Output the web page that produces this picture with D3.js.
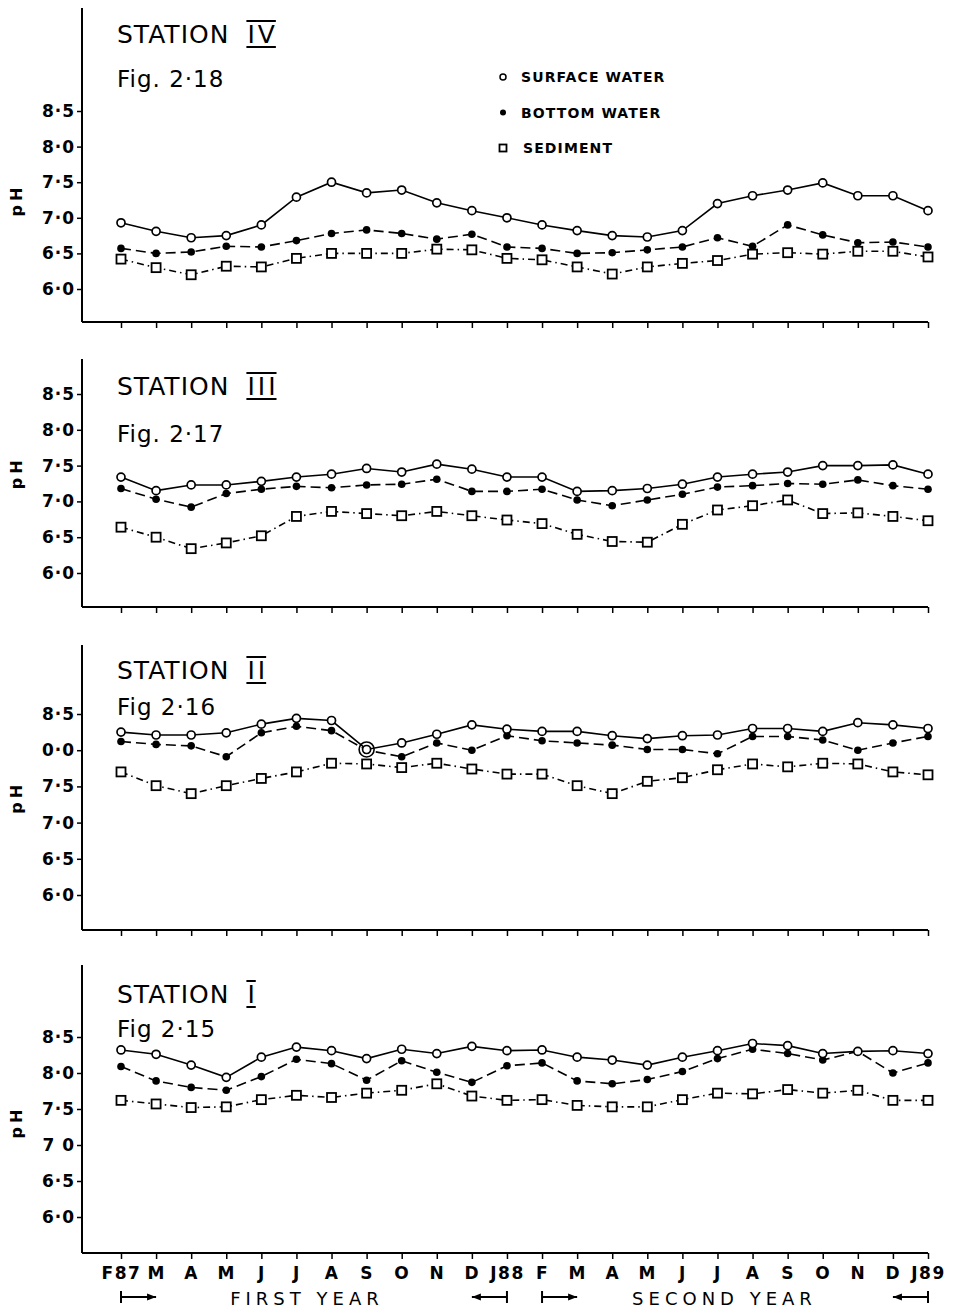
<!DOCTYPE html>
<html>
<head>
<meta charset="utf-8">
<script src="https://cdn.jsdelivr.net/npm/d3@7"></script>
<style>
  body { margin: 0; background: #fff; }
  svg { display: block; font-family: "DejaVu Sans", sans-serif; }
</style>
</head>
<body>
<svg id="chart"></svg>
<script>
const width = 956, height = 1314;

// x categories (Feb 1987 .. Jan 1989)
const months = ["F87","M","A","M","J","J","A","S","O","N","D","J88","F","M","A","M","J","J","A","S","O","N","D","J89"];
const yTicks = [6.0, 6.5, 7.0, 7.5, 8.0, 8.5];
const tickLabels = ["6·0","6·5","7·0","7·5","8·0","8·5"];
const tickLabelsII = ["6·0","6·5","7·0","7·5","0·0","8·5"];
const tickLabelsI = ["6·0","6·5","7 0","7·5","8·0","8·5"];

// Station IV
const surfaceIV  = [6.93,6.81,6.72,6.75,6.90,7.29,7.50,7.35,7.39,7.21,7.10,7.00,6.90,6.82,6.75,6.73,6.82,7.20,7.31,7.39,7.49,7.31,7.31,7.10];
const bottomIV   = [6.57,6.50,6.52,6.60,6.59,6.68,6.78,6.83,6.78,6.70,6.77,6.59,6.57,6.50,6.51,6.55,6.59,6.72,6.60,6.90,6.76,6.65,6.66,6.59];
const sedimentIV = [6.42,6.30,6.20,6.32,6.31,6.43,6.50,6.50,6.50,6.56,6.55,6.43,6.41,6.31,6.21,6.31,6.36,6.40,6.49,6.51,6.49,6.53,6.53,6.45];

// Station III
const surfaceIII  = [7.34,7.15,7.23,7.23,7.28,7.34,7.38,7.46,7.41,7.52,7.45,7.34,7.34,7.14,7.15,7.18,7.24,7.34,7.38,7.41,7.50,7.50,7.51,7.38];
const bottomIII   = [7.18,7.03,6.92,7.11,7.17,7.21,7.19,7.23,7.24,7.31,7.14,7.14,7.17,7.02,6.94,7.02,7.10,7.20,7.22,7.25,7.24,7.30,7.22,7.17];
const sedimentIII = [6.64,6.50,6.34,6.42,6.52,6.79,6.86,6.83,6.80,6.86,6.80,6.74,6.69,6.54,6.44,6.43,6.68,6.88,6.94,7.02,6.83,6.84,6.79,6.73];

// Station II
const surfaceII  = [8.25,8.21,8.21,8.24,8.36,8.44,8.41,8.01,8.10,8.22,8.35,8.29,8.26,8.26,8.20,8.16,8.20,8.21,8.30,8.30,8.26,8.38,8.35,8.30];
const bottomII   = [8.12,8.08,8.06,7.91,8.24,8.33,8.27,8.00,7.91,8.10,8.00,8.20,8.13,8.10,8.07,8.01,8.01,7.95,8.19,8.19,8.14,8.00,8.10,8.19];
const sedimentII = [7.70,7.51,7.40,7.51,7.61,7.70,7.82,7.81,7.76,7.82,7.74,7.67,7.67,7.51,7.40,7.57,7.62,7.73,7.81,7.77,7.82,7.81,7.70,7.66];

// Station I
const surfaceI  = [8.32,8.26,8.11,7.94,8.22,8.36,8.31,8.20,8.33,8.27,8.37,8.31,8.32,8.22,8.18,8.11,8.22,8.31,8.41,8.38,8.27,8.30,8.31,8.27];
const bottomI   = [8.09,7.89,7.80,7.76,7.95,8.19,8.13,7.90,8.17,8.01,7.87,8.10,8.14,7.89,7.85,7.91,8.02,8.20,8.33,8.27,8.18,8.30,8.00,8.14];
const sedimentI = [7.62,7.57,7.52,7.53,7.63,7.69,7.66,7.72,7.76,7.85,7.68,7.62,7.63,7.55,7.53,7.53,7.63,7.72,7.71,7.77,7.72,7.76,7.62,7.62];

const legendNames = ["SURFACE WATER", "BOTTOM WATER", "SEDIMENT"];

const panels = [
  { numeral: "IV",  fig: "Fig. 2·18", labels: tickLabels,   series: [surfaceIV, bottomIV, sedimentIV],
    axisTop: 8,   axisBottom: 322,  y6: 289,  y85: 111,  titleY: 43,   figY: 87,   phV: 7.25, legend: true },
  { numeral: "III", fig: "Fig. 2·17", labels: tickLabels,   series: [surfaceIII, bottomIII, sedimentIII],
    axisTop: 359, axisBottom: 607,  y6: 573,  y85: 394,  titleY: 395,  figY: 442,  phV: 7.40 },
  { numeral: "II",  fig: "Fig 2·16",  labels: tickLabelsII, series: [surfaceII, bottomII, sedimentII],
    axisTop: 645, axisBottom: 930,  y6: 895,  y85: 714,  titleY: 679,  figY: 715,  phV: 7.35, ring: 7 },
  { numeral: "I",   fig: "Fig 2·15",  labels: tickLabelsI,  series: [surfaceI, bottomI, sedimentI],
    axisTop: 965, axisBottom: 1253, y6: 1217, y85: 1037, titleY: 1003, figY: 1037, phV: 7.32, months: true }
];

const axisX = 82;
const svg = d3.select("#chart")
  .attr("width", width)
  .attr("height", height)
  .attr("viewBox", [0, 0, width, height]);

const x = d3.scaleLinear().domain([0, months.length - 1]).range([121, 928]);

// marker drawers
function circleMark(g, pts) {
  g.selectAll("circle").data(pts).join("circle")
    .attr("cx", d => d[0]).attr("cy", d => d[1]).attr("r", 4)
    .attr("fill", "#fff").attr("stroke", "#000").attr("stroke-width", 1.7);
}
function dotMark(g, pts) {
  g.selectAll("circle").data(pts).join("circle")
    .attr("cx", d => d[0]).attr("cy", d => d[1]).attr("r", 3.8)
    .attr("fill", "#000");
}
function squareMark(g, pts) {
  g.selectAll("rect").data(pts).join("rect")
    .attr("x", d => d[0] - 4.5).attr("y", d => d[1] - 4.5)
    .attr("width", 9).attr("height", 9)
    .attr("fill", "#fff").attr("stroke", "#000").attr("stroke-width", 1.8);
}
const styles = [
  { dash: null,          mark: circleMark },
  { dash: "10,5",        mark: dotMark },
  { dash: "7,4,1.5,4",   mark: squareMark }
];

panels.forEach(p => {
  const y = d3.scaleLinear().domain([6.0, 8.5]).range([p.y6, p.y85]);
  const g = svg.append("g");

  // y axis
  g.append("line")
    .attr("x1", axisX).attr("x2", axisX)
    .attr("y1", p.axisTop).attr("y2", p.axisBottom)
    .attr("stroke", "#000").attr("stroke-width", 2);
  g.append("g")
    .attr("transform", `translate(${axisX},0)`)
    .call(d3.axisLeft(y).tickValues(yTicks).tickFormat((d, i) => p.labels[i]).tickSize(5).tickPadding(2))
    .call(a => a.select(".domain").remove())
    .call(a => a.selectAll("line").attr("stroke-width", 1.5))
    .call(a => a.selectAll("text")
      .attr("font-family", "DejaVu Sans").attr("font-size", 17).attr("font-weight", "bold")
      .attr("letter-spacing", 1));

  // x axis
  g.append("line")
    .attr("x1", axisX).attr("x2", x(months.length - 1))
    .attr("y1", p.axisBottom).attr("y2", p.axisBottom)
    .attr("stroke", "#000").attr("stroke-width", 2);
  g.append("g")
    .attr("transform", `translate(0,${p.axisBottom})`)
    .call(d3.axisBottom(x).tickValues(d3.range(months.length))
      .tickFormat(i => p.months ? months[i] : "").tickSize(6).tickPadding(8))
    .call(a => a.select(".domain").remove())
    .call(a => a.selectAll("line").attr("stroke-width", 1.5))
    .call(a => a.selectAll("text")
      .attr("font-family", "DejaVu Sans").attr("font-size", 17).attr("font-weight", "bold")
      .attr("letter-spacing", 1.5));

  // pH label
  g.append("text")
    .attr("transform", `translate(22,${y(p.phV)}) rotate(-90)`)
    .attr("text-anchor", "middle")
    .attr("font-size", 16).attr("font-weight", "bold").attr("letter-spacing", 4)
    .text("pH");

  // title
  const st = g.append("text")
    .attr("x", 117).attr("y", p.titleY)
    .attr("font-size", 25).attr("letter-spacing", 1)
    .text("STATION");
  const nx = 117 + st.node().getComputedTextLength() + 18;
  const num = g.append("text")
    .attr("x", nx).attr("y", p.titleY)
    .attr("font-size", 25).attr("letter-spacing", 3)
    .text(p.numeral);
  const nw = num.node().getComputedTextLength() - 3;
  [p.titleY - 22, p.titleY + 4].forEach(ly => {
    g.append("line")
      .attr("x1", nx - 1).attr("x2", nx + nw + 1)
      .attr("y1", ly).attr("y2", ly)
      .attr("stroke", "#000").attr("stroke-width", 2);
  });
  g.append("text")
    .attr("x", 117).attr("y", p.figY)
    .attr("font-size", 23).attr("letter-spacing", 1)
    .text(p.fig);

  // series, lines first then markers
  const line = d3.line().x((d, i) => x(i)).y(d => y(d));
  p.series.forEach((s, k) => {
    g.append("path")
      .attr("d", line(s))
      .attr("fill", "none").attr("stroke", "#000").attr("stroke-width", 1.6)
      .attr("stroke-dasharray", styles[k].dash);
  });
  [2, 1, 0].forEach(k => {
    const pts = p.series[k].map((d, i) => [x(i), y(d)]);
    styles[k].mark(g.append("g"), pts);
  });

  if (p.ring !== undefined) {
    g.append("circle")
      .attr("cx", x(p.ring)).attr("cy", y(p.series[0][p.ring]))
      .attr("r", 7.5).attr("fill", "none").attr("stroke", "#000").attr("stroke-width", 1.6);
  }

  if (p.legend) {
    const lg = g.append("g").attr("transform", "translate(503,77)");
    legendNames.forEach((name, k) => {
      const row = lg.append("g").attr("transform", `translate(0,${k * 35.5})`);
      if (k === 0) row.append("circle").attr("r", 3).attr("fill", "#fff").attr("stroke", "#000").attr("stroke-width", 1.5);
      if (k === 1) row.append("circle").attr("r", 3).attr("fill", "#000");
      if (k === 2) row.append("rect").attr("x", -3.5).attr("y", -3.5).attr("width", 7).attr("height", 7)
        .attr("fill", "#fff").attr("stroke", "#000").attr("stroke-width", 1.8);
      row.append("text")
        .attr("x", k === 2 ? 20 : 18).attr("y", 5)
        .attr("font-size", 14).attr("font-weight", "bold").attr("letter-spacing", 1.1)
        .text(name);
    });
  }

  if (p.months) {
    const ay = 1297;
    const yearLabel = (label, cx) => g.append("text")
      .attr("x", cx).attr("y", ay + 8)
      .attr("text-anchor", "middle")
      .attr("font-size", 18).attr("letter-spacing", 5)
      .text(label);
    yearLabel("FIRST YEAR", x(5.3));
    yearLabel("SECOND YEAR", x(17.2));

    const arrow = (from, to) => {
      const x0 = x(from), x1 = x(to), dir = Math.sign(x1 - x0);
      g.append("line").attr("x1", x0).attr("x2", x1).attr("y1", ay).attr("y2", ay)
        .attr("stroke", "#000").attr("stroke-width", 1.8);
      g.append("line").attr("x1", x0).attr("x2", x0).attr("y1", ay - 6).attr("y2", ay + 6)
        .attr("stroke", "#000").attr("stroke-width", 2);
      g.append("path")
        .attr("d", `M${x1},${ay} L${x1 - dir * 9},${ay - 3.5} L${x1 - dir * 9},${ay + 3.5} Z`)
        .attr("fill", "#000");
    };
    arrow(0, 1);
    arrow(11, 10);
    arrow(12, 13);
    arrow(23, 22);
  }
});
</script>
</body>
</html>
